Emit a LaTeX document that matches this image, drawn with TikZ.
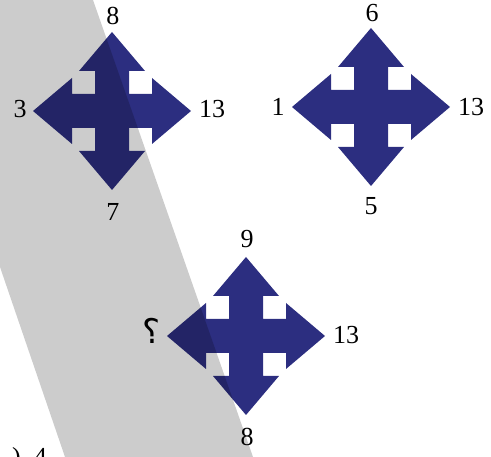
\documentclass[tikz,border=0pt]{standalone}
\usepackage{fontspec}
\setmainfont{Liberation Serif}
\newfontfamily\arabicfont[Script=Arabic]{DejaVu Sans}
\definecolor{crossblue}{RGB}{44,46,128}
\tikzset{
	num/.style={font=\fontsize{26}{30}\selectfont,inner sep=0pt},
	plusarrow/.pic={
		\fill [crossblue] (0,-79) -- (33,-40) -- (17,-40) -- (17,-17) -- (40,-17) -- (40,-33)
			-- (79,0) -- (40,33) -- (40,17) -- (17,17) -- (17,40) -- (33,40)
			-- (0,79) -- (-33,40) -- (-17,40) -- (-17,17) -- (-40,17) -- (-40,33)
			-- (-79,0) -- (-40,-33) -- (-40,-17) -- (-17,-17) -- (-17,-40) -- (-33,-40) -- cycle;
	}
}
\begin{document}
\begin{tikzpicture}[x=1pt,y=-1pt]
			\useasboundingbox (0,0) rectangle (491,457);
			\pic at (112,111) {plusarrow};
			\pic at (371,107) {plusarrow};
			\pic at (246,336) {plusarrow};
			% grey band
			\fill [black,opacity=.2] (93,0) -- (253,457) -- (65,457) -- (0,267) -- (0,0) -- cycle;
			\node [num] (a top) at (113,16) {8};
			\node [num] (a left) at (20,109) {3};
			\node [num] (a right) at (212,109) {13};
			\node [num] (a bottom) at (113,212) {7};
			\node [num] (b top) at (372,13) {6};
			\node [num] (b left) at (278,107) {1};
			\node [num] (b right) at (471,107) {13};
			\node [num] (b bottom) at (371,206) {5};
			\node [num] (c top) at (247,239) {9};
			\node [num,font=\arabicfont\fontsize{34}{40}\selectfont] (c left) at (152,331) {؟};
			\node [num] (c right) at (346,335) {13};
			\node [num] (c bottom) at (247,437) {8};
			\node [num,anchor=base west] (answer) at (12,466) {)\hspace{13pt}4};
			\end{tikzpicture}
\end{document}
